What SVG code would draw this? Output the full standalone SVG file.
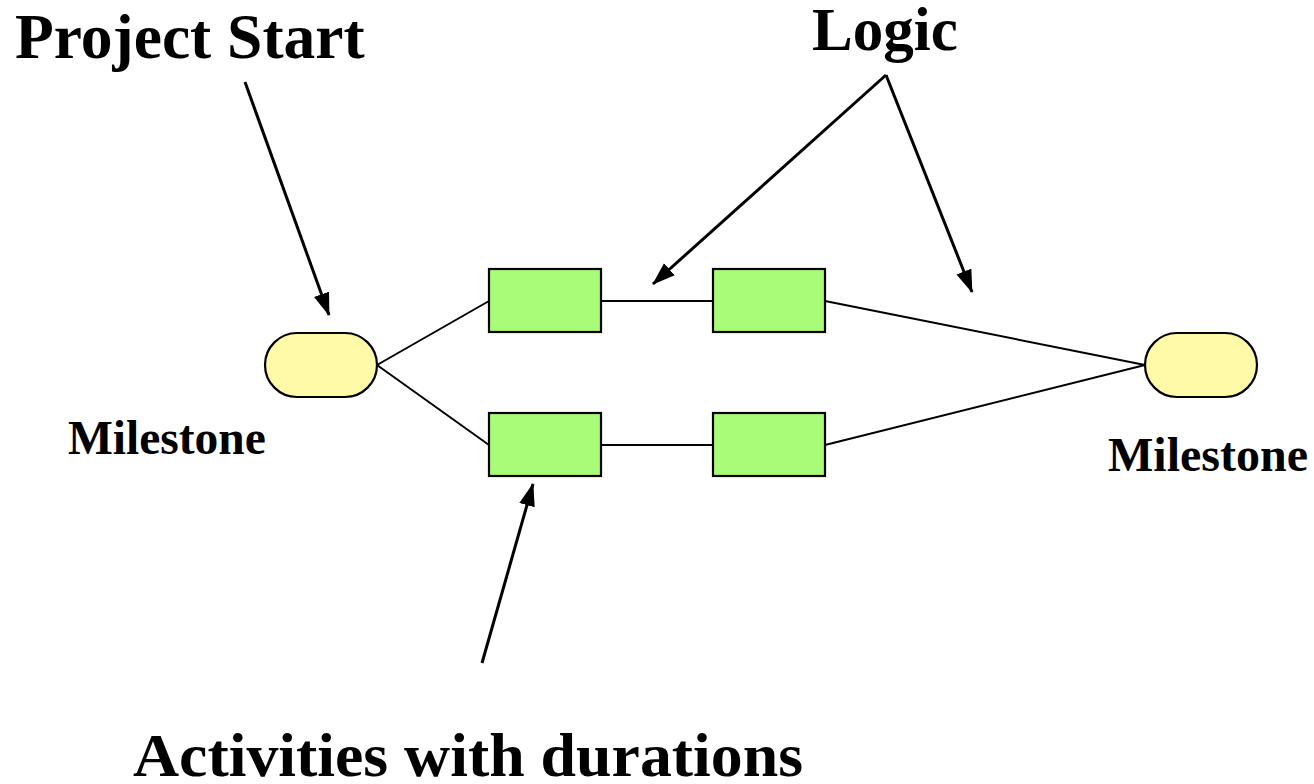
<svg xmlns="http://www.w3.org/2000/svg" width="1314" height="784" viewBox="0 0 1314 784">
  <defs>
    <style>
      .label { font-family: "Liberation Serif", "Times New Roman", serif; font-weight: bold; fill: #000; }
      .milestone { fill: #FFFAA8; stroke: #000; stroke-width: 2.2; }
      .activity { fill: #A8FC78; stroke: #000; stroke-width: 2.2; }
      .link { stroke: #000; stroke-width: 2; fill: none; }
      .pointer { stroke: #000; stroke-width: 3; fill: none; marker-end: url(#head); }
    </style>
    <marker id="head" markerUnits="userSpaceOnUse" markerWidth="24" markerHeight="18" viewBox="0 0 24 18" refX="22" refY="9" orient="auto">
      <path d="M0,1 L23,9 L0,17 Z" fill="#000"/>
    </marker>
  </defs>

  <rect width="1314" height="784" fill="#fff"/>

  <!-- network links and callout pointers -->
  <g id="connectors">
    <line class="link" x1="377" y1="365" x2="489" y2="301"/>
    <line class="link" x1="377" y1="365" x2="489" y2="445"/>
    <line class="link" x1="601" y1="301" x2="713" y2="301"/>
    <line class="link" x1="601" y1="445" x2="713" y2="445"/>
    <line class="link" x1="825" y1="301" x2="1145" y2="365"/>
    <line class="link" x1="825" y1="445" x2="1145" y2="365"/>

    <line class="pointer" x1="245" y1="82" x2="329" y2="315"/>
    <line class="pointer" x1="886" y1="75" x2="653" y2="284"/>
    <line class="pointer" x1="886" y1="75" x2="972" y2="292"/>
    <line class="pointer" x1="482" y1="663" x2="533" y2="484"/>
  </g>

  <g id="milestone-start">
    <rect class="milestone" x="265" y="333" width="112" height="64" rx="32" ry="32"/>
    <text class="label" x="68" y="454" font-size="47.5">Milestone</text>
  </g>

  <g id="activity-a1">
    <rect class="activity" x="489" y="269" width="112" height="63"/>
  </g>
  <g id="activity-a2">
    <rect class="activity" x="713" y="269" width="112" height="63"/>
  </g>
  <g id="activity-b1">
    <rect class="activity" x="489" y="413" width="112" height="63"/>
  </g>
  <g id="activity-b2">
    <rect class="activity" x="713" y="413" width="112" height="63"/>
  </g>

  <g id="milestone-end">
    <rect class="milestone" x="1145" y="333" width="112" height="64" rx="32" ry="32"/>
    <text class="label" x="1108" y="471" font-size="48">Milestone</text>
  </g>

  <g id="caption-project-start">
    <text class="label" x="15" y="58" font-size="63.5">Project Start</text>
  </g>
  <g id="caption-logic">
    <text class="label" x="812" y="50" font-size="61">Logic</text>
  </g>
  <g id="caption-activities">
    <text class="label" x="133" y="776" font-size="62" textLength="670" lengthAdjust="spacingAndGlyphs">Activities with durations</text>
  </g>
</svg>
